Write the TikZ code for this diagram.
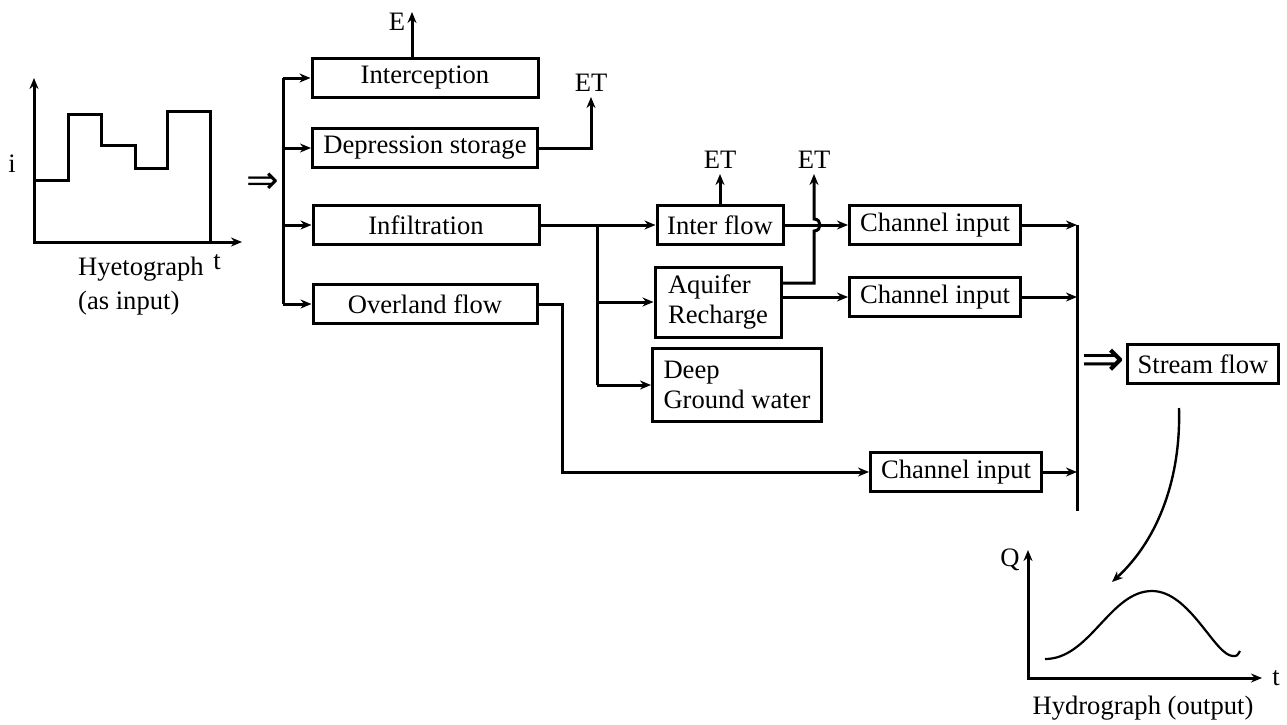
\documentclass[tikz,border=0pt]{standalone}
\usepackage{fontspec}
\setmainfont{Liberation Serif}
\newfontfamily\symf{DejaVu Sans}
\usetikzlibrary{positioning,calc,arrows.meta}

\begin{document}
\begin{tikzpicture}[x=0.5pt,y=-0.5pt,
    font=\fontsize{13.3}{14.6}\selectfont,
    line width=1.5pt,
    arr/.style={-{Stealth[length=5.5pt,width=4.5pt]}},
    axes/.style={{Stealth[length=5.5pt,width=4.5pt]}-{Stealth[length=5.5pt,width=4.5pt]}},
    box/.style={draw,line width=1.5pt,inner sep=2pt,minimum height=19.5pt},
    lbl/.style={inner sep=2pt},
    imp/.style={inner sep=0pt,font=\symf\fontsize{#1}{#1}\selectfont}]
  \useasboundingbox (0,0) rectangle (1287,724);

  % hyetograph
  \draw[axes] (34,78) -- (34,242) -- (242,242);
  \draw (34,180) -- (68,180) -- (68,114) -- (101,114) -- (101,145) -- (135,145)
     -- (135,168) -- (167,168) -- (167,111) -- (210,111) -- (210,242);
  \node (i) at (12,164) {i};
  \node (tA) at (217,262) {t};
  \node[align=left,anchor=west] (hyeto) at (70,286) {Hyetograph\\[2pt](as input)};
  \node[imp=19.5] (in) at (263,183) {⇒};

  % boxes
  \node[box,minimum width=113pt] (intc) at (425,78) {Interception};
  \node[box,minimum width=112.5pt] (dep) at (425,148) {Depression storage};
  \node[box,minimum width=113pt] (inf) at (426,225) {Infiltration};
  \node[box,minimum width=112pt] (ovl) at (425,304) {Overland flow};
  \node[box,minimum width=63pt] (itf) at (720,225) {Inter flow};
  \node[box,minimum width=63pt,minimum height=35pt,align=left] (aqf) at (718,302) {Aquifer\\Recharge};
  \node[box,minimum width=84.5pt,minimum height=36.5pt,align=left] (deep) at (737,385) {Deep\\Ground water};
  \node[box,minimum width=85.5pt] (chA) at (935,225) {Channel input};
  \node[box,minimum width=85.5pt] (chB) at (935,297) {Channel input};
  \node[box,minimum width=85.5pt] (chC) at (956,472) {Channel input};
  \node[box,minimum width=75.5pt] (strm) at (1203,364) {Stream flow};
  \node[imp=26] (out) at (1103,363) {⇒};

  % input bus
  \coordinate (busL) at (283,0);
  \draw (intc.west -| busL) -- (ovl.west -| busL);
  \draw[arr] (intc.west -| busL) -- (intc.west);
  \draw[arr] (dep.west -| busL) -- (dep.west);
  \draw[arr] (inf.west -| busL) -- (inf.west);
  \draw[arr] (ovl.west -| busL) -- (ovl.west);

  % losses
  \coordinate (eTip) at (412,12);
  \node (E) at (397,22) {E};
  \draw[arr] (intc.north -| eTip) -- (eTip);
  \coordinate (tipA) at (591,97);
  \node[lbl,above=0pt of tipA] (etA) {ET};
  \draw[arr] (dep.east) -| (etA.south);

  % subsurface
  \coordinate (split) at (597,0);
  \draw[arr] (inf.east) -- (itf.west);
  \draw (inf.east -| split) -- (deep.west -| split);
  \draw[arr] (aqf.west -| split) -- (aqf.west);
  \draw[arr] (deep.west -| split) -- (deep.west);
  \coordinate (tipB) at (720,174);
  \node[lbl,above=0pt of tipB] (etB) {ET};
  \draw[arr] (itf.north) -- (etB.south);
  \draw[arr] (itf.east) -- (chA.west);
  \coordinate (tipC) at (814,174);
  \node[lbl,above=0pt of tipC] (etC) {ET};
  \coordinate (hop) at (itf.east -| tipC);
  \draw[arr] ($(aqf.east)+(0,-19)$) -| ($(hop)+(0,6)$)
     .. controls +(8,0) and +(8,0) .. ($(hop)+(0,-6)$) -- (etC.south);
  \draw[arr] (aqf.east |- chB.west) -- (chB.west);

  % overland
  \coordinate (drop) at (562,0);
  \draw[arr] (ovl.east) -| (drop |- chC.west) -- (chC.west);

  % output bus
  \coordinate (busR) at (1077,511);
  \draw (chA.east -| busR) -- (busR);
  \draw[arr] (chA.east) -- (chA.east -| busR);
  \draw[arr] (chB.east) -- (chB.east -| busR);
  \draw[arr] (chC.east) -- (chC.east -| busR);

  % hydrograph
  \coordinate (sTop) at (1179,408);
  \coordinate (sEnd) at (1112,582);
  \draw[arr,line width=1.2pt] (sTop) .. controls (1181,475) and (1160,538) .. (sEnd);
  \draw[axes] (1028,550) -- (1028,678) -- (1262,678);
  \node (Q) at (1010,560) {Q};
  \node (tB) at (1276,678) {t};
  \draw[line width=1.1pt] (1045,659) .. controls (1090,659) and (1110,591) .. (1152,591)
     .. controls (1190,591) and (1215,656) .. (1233,656) .. controls (1237,656) .. (1240,651);
  \node (hydro) at (1143,708) {Hydrograph (output)};
\end{tikzpicture}
\end{document}
